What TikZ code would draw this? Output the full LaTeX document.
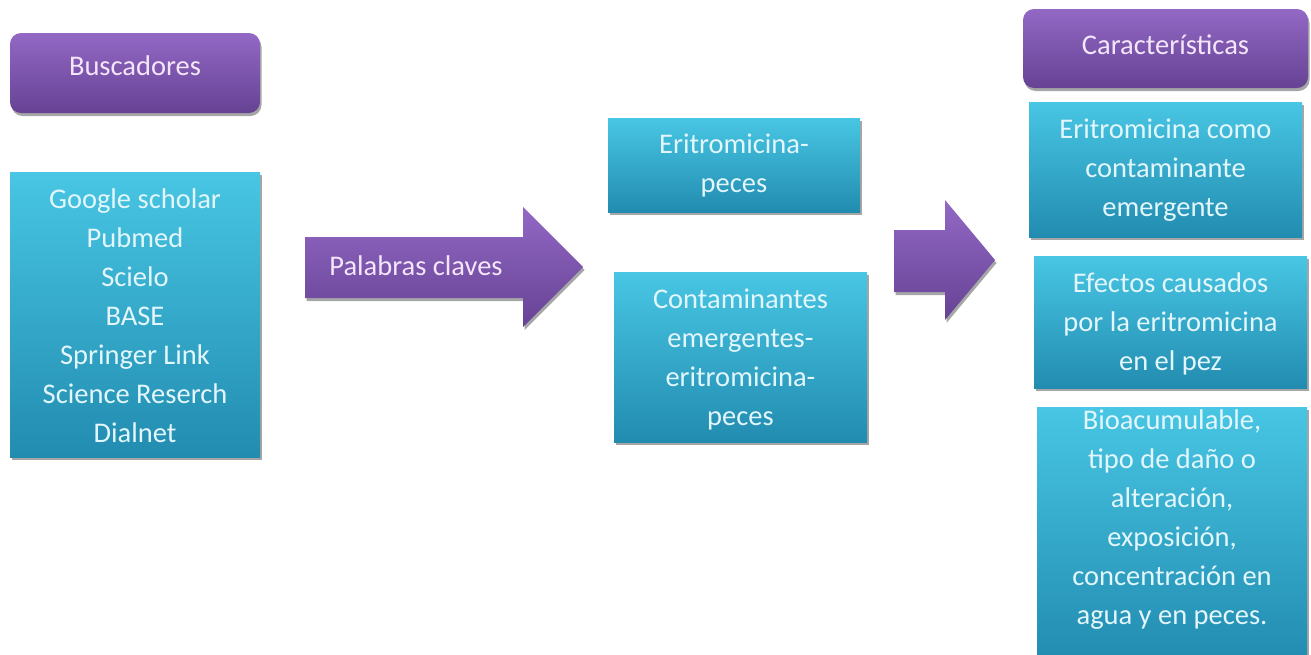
\documentclass[tikz,border=0pt]{standalone}
\usepackage{fontspec}
\setmainfont{Carlito}
\usetikzlibrary{shadows}
\definecolor{purpT}{RGB}{146,104,196}
\definecolor{purpB}{RGB}{102,66,148}
\definecolor{cyanT}{RGB}{72,198,228}
\definecolor{cyanB}{RGB}{34,140,176}
\definecolor{txtC}{RGB}{226,246,252}
\definecolor{txtP}{RGB}{244,230,250}
\begin{document}
\begin{tikzpicture}[x=1pt,y=-1pt,
  shad/.style={drop shadow={shadow xshift=1.5pt,shadow yshift=-3pt,opacity=0.35,fill=black}},
  cbox/.style={top color=cyanT, bottom color=cyanB, shad},
  pbox/.style={top color=purpT, bottom color=purpB, rounded corners=11pt, shad},
  parrow/.style={top color=purpT, bottom color=purpB, shad},
  ctext/.style={text=txtC, font=\fontsize{28.5}{39}\selectfont, align=center, inner sep=0pt},
  ptext/.style={text=txtP, font=\fontsize{28.5}{39}\selectfont, align=center, inner sep=0pt}
]
\useasboundingbox (0,0) rectangle (1311,654);
\fill[white] (0,0) rectangle (1311,654);

% Buscadores
\path[pbox] (10,33) rectangle (260,113);
\node[ptext] (busc) at (135,66) {Buscadores};

% Google box
\path[cbox] (10,172) rectangle (260,457);
\node[ctext] (google) at (135,316) {Google scholar\\Pubmed\\Scielo\\BASE\\Springer Link\\Science Reserch\\Dialnet};

% Palabras claves arrow
\path[parrow] (305,237) -- (523,237) -- (523,207) -- (583,267) -- (523,327) -- (523,298) -- (305,298) -- cycle;
\node[ptext] (pal) at (416,266) {Palabras claves};

% middle boxes
\path[cbox] (608,118) rectangle (860,212);
\node[ctext] (erit1) at (734,165) {Eritromicina-\\peces};
\path[cbox] (614,272) rectangle (867,442);
\node[ctext] (contam) at (740.5,359) {Contaminantes\\emergentes-\\eritromicina-\\peces};

% second arrow
\path[parrow] (894,230) -- (945,230) -- (945,200) -- (995,260) -- (945,320) -- (945,292) -- (894,292) -- cycle;

% right column
\path[pbox] (1023,9) rectangle (1308,88);
\node[ptext] (caract) at (1165.5,45) {Características};
\path[cbox] (1029,102) rectangle (1302,237);
\node[ctext] (erit2) at (1165.5,170) {Eritromicina como\\contaminante\\emergente};
\path[cbox] (1034,256) rectangle (1307,388);
\node[ctext] (efectos) at (1170.5,324) {Efectos causados\\por la eritromicina\\en el pez};
\path[cbox] (1037,407) rectangle (1307,660);
\node[ctext] (bio) at (1172,520) {Bioacumulable,\\tipo de daño o\\alteración,\\exposición,\\concentración en\\agua y en peces.};
\end{tikzpicture}
\end{document}
